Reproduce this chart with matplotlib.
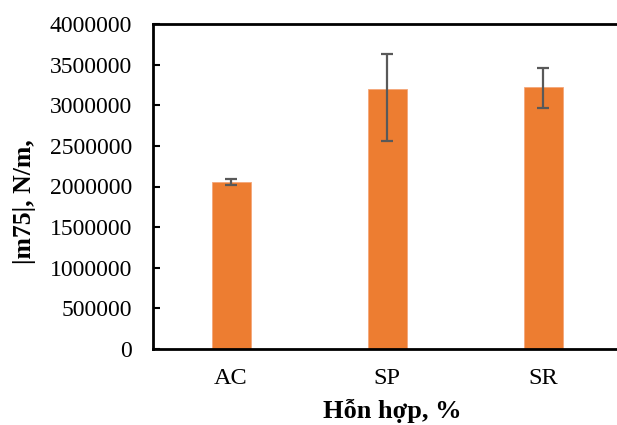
import matplotlib
matplotlib.use("Agg")
import matplotlib.pyplot as plt

categories = ["AC", "SP", "SR"]
values = [2060000, 3200000, 3230000]
err_low = [44000, 645000, 266000]
err_high = [37000, 434000, 226000]
y_ticks = [0, 500000, 1000000, 1500000, 2000000, 2500000, 3000000, 3500000, 4000000]

plt.rcParams["font.family"] = ["Liberation Serif", "DejaVu Serif"]

fig = plt.figure(figsize=(6.17, 4.25), dpi=100)
ax = fig.add_axes([153 / 617, 76 / 425, 468 / 617, 325 / 425])

x = range(len(categories))
ax.bar(x, values, width=0.25, color="#ED7D31", edgecolor="#F4A77A", linewidth=0.6, zorder=2)
ax.errorbar(x, values, yerr=[err_low, err_high], fmt="none", ecolor="#595959",
            elinewidth=1.6, capsize=4, capthick=1.6, zorder=3)

ax.set_xlim(-0.5, 2.5)
ax.set_ylim(0, 4000000)
ax.set_yticks(y_ticks)
ax.set_yticklabels([str(t) for t in y_ticks], fontsize=17)
ax.set_xticks(list(x))
ax.set_xticklabels(categories, fontsize=17.5)
ax.tick_params(axis="y", direction="in", length=5, width=1.5, pad=15)
ax.tick_params(axis="x", length=0, pad=14)

for side in ["left", "bottom", "top"]:
    ax.spines[side].set_linewidth(2)
ax.spines["right"].set_visible(False)

fig.text(392 / 617, 1 - 411 / 425, "Hỗn hợp, %", fontsize=19, fontweight="bold",
         ha="center", va="center")
fig.text(25 / 617, 1 - 202 / 425, "|m75|, N/m,", fontsize=18.5, fontweight="bold",
         rotation=90, ha="center", va="center")

fig.savefig("out.png", dpi=100)
